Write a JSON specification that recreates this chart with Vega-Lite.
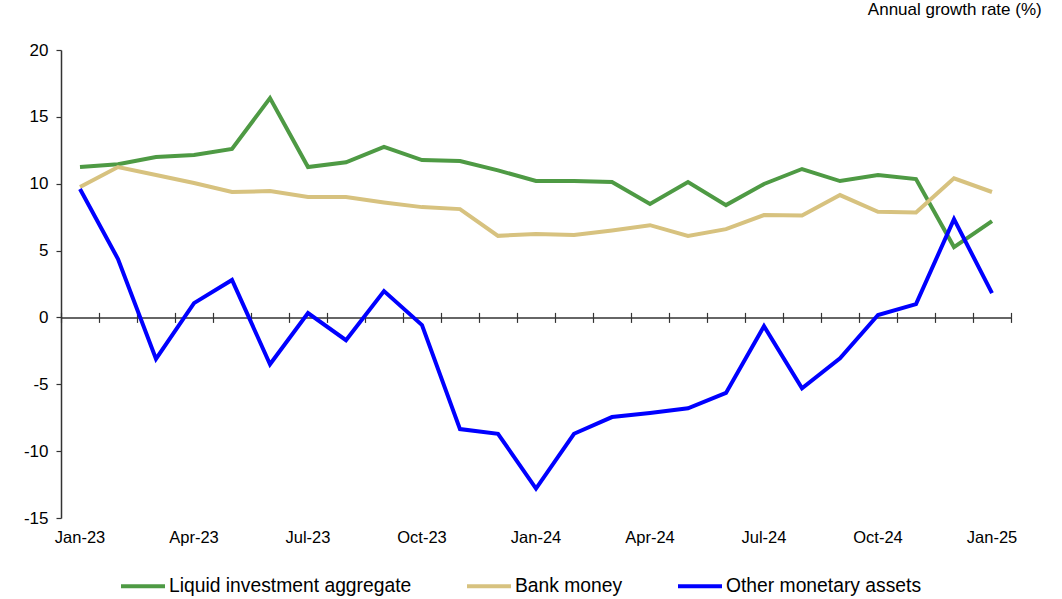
{
  "$schema": "https://vega.github.io/schema/vega-lite/v6.json",
  "width": 950,
  "height": 468,
  "autosize": {"type": "none"},
  "padding": {"left": 61, "top": 50, "right": 51, "bottom": 81},
  "background": "white",
  "config": {
    "view": {"stroke": null},
    "font": "Liberation Sans",
    "axis": {"labelFont": "Liberation Sans", "labelColor": "#000", "domainColor": "#333", "tickColor": "#333", "grid": false, "title": null}
  },
  "title": {
    "text": "Annual growth rate (%)",
    "anchor": "end",
    "dx": 25,
    "offset": 22,
    "fontSize": 17,
    "fontWeight": "normal",
    "font": "Liberation Sans",
    "color": "#000"
  },
  "datasets": {
    "rates": [
      {"month": "Jan-23", "series": "Liquid investment aggregate", "value": 11.25},
      {"month": "Feb-23", "series": "Liquid investment aggregate", "value": 11.46},
      {"month": "Mar-23", "series": "Liquid investment aggregate", "value": 12.0},
      {"month": "Apr-23", "series": "Liquid investment aggregate", "value": 12.15},
      {"month": "May-23", "series": "Liquid investment aggregate", "value": 12.6},
      {"month": "Jun-23", "series": "Liquid investment aggregate", "value": 16.4},
      {"month": "Jul-23", "series": "Liquid investment aggregate", "value": 11.25},
      {"month": "Aug-23", "series": "Liquid investment aggregate", "value": 11.6},
      {"month": "Sep-23", "series": "Liquid investment aggregate", "value": 12.75},
      {"month": "Oct-23", "series": "Liquid investment aggregate", "value": 11.77},
      {"month": "Nov-23", "series": "Liquid investment aggregate", "value": 11.7},
      {"month": "Dec-23", "series": "Liquid investment aggregate", "value": 11.0},
      {"month": "Jan-24", "series": "Liquid investment aggregate", "value": 10.2},
      {"month": "Feb-24", "series": "Liquid investment aggregate", "value": 10.2},
      {"month": "Mar-24", "series": "Liquid investment aggregate", "value": 10.13},
      {"month": "Apr-24", "series": "Liquid investment aggregate", "value": 8.48},
      {"month": "May-24", "series": "Liquid investment aggregate", "value": 10.13},
      {"month": "Jun-24", "series": "Liquid investment aggregate", "value": 8.4},
      {"month": "Jul-24", "series": "Liquid investment aggregate", "value": 9.98},
      {"month": "Aug-24", "series": "Liquid investment aggregate", "value": 11.1},
      {"month": "Sep-24", "series": "Liquid investment aggregate", "value": 10.2},
      {"month": "Oct-24", "series": "Liquid investment aggregate", "value": 10.65},
      {"month": "Nov-24", "series": "Liquid investment aggregate", "value": 10.35},
      {"month": "Dec-24", "series": "Liquid investment aggregate", "value": 5.26},
      {"month": "Jan-25", "series": "Liquid investment aggregate", "value": 7.2},
      {"month": "Jan-23", "series": "Bank money", "value": 9.75},
      {"month": "Feb-23", "series": "Bank money", "value": 11.25},
      {"month": "Mar-23", "series": "Bank money", "value": 10.65},
      {"month": "Apr-23", "series": "Bank money", "value": 10.05},
      {"month": "May-23", "series": "Bank money", "value": 9.38},
      {"month": "Jun-23", "series": "Bank money", "value": 9.45},
      {"month": "Jul-23", "series": "Bank money", "value": 9.0},
      {"month": "Aug-23", "series": "Bank money", "value": 9.0},
      {"month": "Sep-23", "series": "Bank money", "value": 8.6},
      {"month": "Oct-23", "series": "Bank money", "value": 8.25},
      {"month": "Nov-23", "series": "Bank money", "value": 8.1},
      {"month": "Dec-23", "series": "Bank money", "value": 6.1},
      {"month": "Jan-24", "series": "Bank money", "value": 6.24},
      {"month": "Feb-24", "series": "Bank money", "value": 6.16},
      {"month": "Mar-24", "series": "Bank money", "value": 6.5},
      {"month": "Apr-24", "series": "Bank money", "value": 6.9},
      {"month": "May-24", "series": "Bank money", "value": 6.1},
      {"month": "Jun-24", "series": "Bank money", "value": 6.6},
      {"month": "Jul-24", "series": "Bank money", "value": 7.66},
      {"month": "Aug-24", "series": "Bank money", "value": 7.62},
      {"month": "Sep-24", "series": "Bank money", "value": 9.15},
      {"month": "Oct-24", "series": "Bank money", "value": 7.9},
      {"month": "Nov-24", "series": "Bank money", "value": 7.85},
      {"month": "Dec-24", "series": "Bank money", "value": 10.4},
      {"month": "Jan-25", "series": "Bank money", "value": 9.38},
      {"month": "Jan-23", "series": "Other monetary assets", "value": 9.6},
      {"month": "Feb-23", "series": "Other monetary assets", "value": 4.37},
      {"month": "Mar-23", "series": "Other monetary assets", "value": -3.1},
      {"month": "Apr-23", "series": "Other monetary assets", "value": 1.07},
      {"month": "May-23", "series": "Other monetary assets", "value": 2.8},
      {"month": "Jun-23", "series": "Other monetary assets", "value": -3.5},
      {"month": "Jul-23", "series": "Other monetary assets", "value": 0.33},
      {"month": "Aug-23", "series": "Other monetary assets", "value": -1.7},
      {"month": "Sep-23", "series": "Other monetary assets", "value": 1.97},
      {"month": "Oct-23", "series": "Other monetary assets", "value": -0.57},
      {"month": "Nov-23", "series": "Other monetary assets", "value": -8.35},
      {"month": "Dec-23", "series": "Other monetary assets", "value": -8.7},
      {"month": "Jan-24", "series": "Other monetary assets", "value": -12.8},
      {"month": "Feb-24", "series": "Other monetary assets", "value": -8.7},
      {"month": "Mar-24", "series": "Other monetary assets", "value": -7.45},
      {"month": "Apr-24", "series": "Other monetary assets", "value": -7.15},
      {"month": "May-24", "series": "Other monetary assets", "value": -6.8},
      {"month": "Jun-24", "series": "Other monetary assets", "value": -5.65},
      {"month": "Jul-24", "series": "Other monetary assets", "value": -0.65},
      {"month": "Aug-24", "series": "Other monetary assets", "value": -5.3},
      {"month": "Sep-24", "series": "Other monetary assets", "value": -3.05},
      {"month": "Oct-24", "series": "Other monetary assets", "value": 0.18},
      {"month": "Nov-24", "series": "Other monetary assets", "value": 1.0},
      {"month": "Dec-24", "series": "Other monetary assets", "value": 7.35},
      {"month": "Jan-25", "series": "Other monetary assets", "value": 1.82}
    ]
  },
  "data": {"name": "rates"},
  "resolve": {"axis": {"x": "independent"}},
  "layer": [
    {
      "mark": {"type": "line", "opacity": 0},
      "encoding": {
        "x": {
          "field": "month", "type": "ordinal", "sort": null,
          "scale": {"type": "band", "paddingInner": 0, "paddingOuter": 0},
          "axis": {"orient": "bottom", "offset": -200.6, "labels": false, "domain": true, "ticks": true, "tickBand": "extent", "tickSize": 5, "domainWidth": 1.5, "tickWidth": 1.2}
        },
        "y": {"datum": 0, "type": "quantitative"}
      }
    },
    {
      "mark": {"type": "line", "opacity": 0},
      "encoding": {
        "x": {
          "field": "month", "type": "ordinal", "sort": null,
          "axis": {"orient": "top", "offset": -267.4, "labels": false, "domain": false, "ticks": true, "tickBand": "extent", "tickSize": 5, "tickWidth": 1.2}
        },
        "y": {"datum": 0, "type": "quantitative"}
      }
    },
    {
      "mark": {"type": "line", "strokeWidth": 4, "strokeJoin": "miter"},
      "encoding": {
        "x": {
          "field": "month", "type": "ordinal", "sort": null,
          "axis": {
            "orient": "bottom", "domain": false, "ticks": false, "labelAngle": 0, "labelFontSize": 16.5, "labelPadding": 11, "labelOverlap": false,
            "labelExpr": "indexof(['Jan','Apr','Jul','Oct'], slice(datum.label, 0, 3)) >= 0 ? datum.label : ''"
          }
        },
        "y": {
          "field": "value", "type": "quantitative",
          "scale": {"domain": [-15, 20], "nice": false, "zero": false},
          "axis": {"values": [-15, -10, -5, 0, 5, 10, 15, 20], "labelExpr": "'' + datum.value", "labelFontSize": 17, "tickSize": 5, "labelPadding": 8, "domainWidth": 1.5, "tickWidth": 1.2}
        },
        "color": {
          "field": "series", "type": "nominal",
          "scale": {"domain": ["Liquid investment aggregate", "Bank money", "Other monetary assets"], "range": ["#4E9A44", "#D7C27F", "#0000FF"]},
          "legend": {
            "orient": "none", "legendX": 58, "legendY": 512, "direction": "horizontal", "title": null,
            "symbolType": "stroke", "symbolStrokeWidth": 4, "symbolSize": 1936, "labelFontSize": 19.3, "labelFont": "Liberation Sans", "labelColor": "#000",
            "labelOffset": 2, "columnPadding": 47, "labelLimit": 400
          }
        }
      }
    }
  ]
}
